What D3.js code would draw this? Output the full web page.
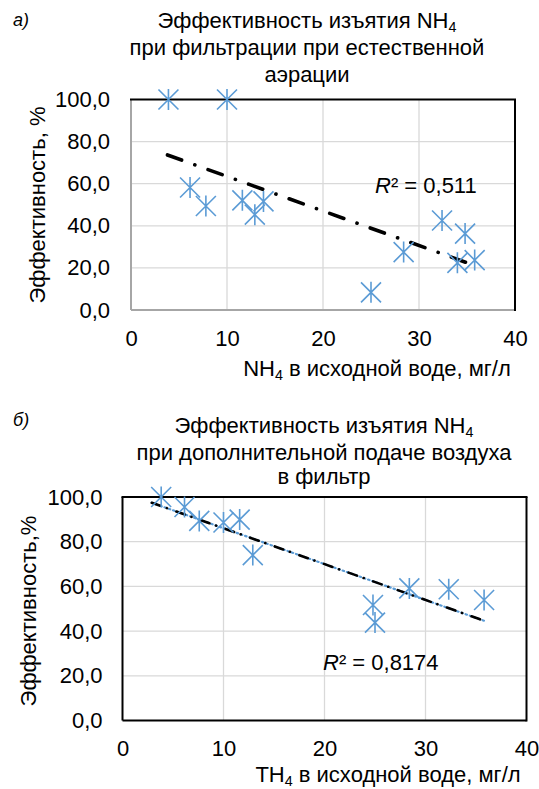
<!DOCTYPE html>
<html><head><meta charset="utf-8">
<script src="https://cdn.jsdelivr.net/npm/d3@7"></script>
<style>
html,body{margin:0;padding:0;background:#fff;}
svg{display:block;font-family:"Liberation Sans",Arial,sans-serif;}
</style></head>
<body>
<svg id="c" width="539" height="789"></svg>
<script>
// ---- data ----
const xTicks = [0, 10, 20, 30, 40];
const yTicks = [0, 20, 40, 60, 80, 100];
const yTickLabels = ["0,0", "20,0", "40,0", "60,0", "80,0", "100,0"];

const aX = [3.9, 10.0, 6.15, 7.8, 11.6, 12.9, 13.8, 25.0, 28.4, 32.4, 34.8, 34.0, 35.8];
const aY = [100, 100, 58.2, 49.4, 52.1, 45.3, 51.6, 8.4, 27.5, 42.5, 36.3, 22.4, 23.7];
const aTitle = ["Эффективность изъятия NH|4", "при фильтрации при естественной", "аэрации"];
const aXLabel = "NH|4| в исходной воде, мг/л";
const aYLabel = "Эффективность, %";
const aR2 = "0,511";
const aTag = "а)";

const bX = [3.83, 6.14, 7.6, 10.0, 11.6, 12.9, 24.8, 25.0, 28.4, 32.3, 35.8];
const bY = [100, 95.5, 89.3, 88.6, 89.9, 74.0, 51.7, 43.8, 59.1, 58.7, 53.9];
const bTitle = ["Эффективность изъятия NH|4", "при дополнительной подаче воздуха", "в фильтр"];
const bXLabel = "ТН|4| в исходной воде, мг/л";
const bYLabel = "Эффективность,%";
const bR2 = "0,8174";
const bTag = "б)";

const svg = d3.select("#c");
const FONT = 22;
const BLUE = "#5B9BD5";

function richText(g, str, x, y, anchor, size) {
  const parts = str.split("|");
  const t = g.append("text").attr("x", x).attr("y", y).attr("text-anchor", anchor)
    .attr("font-size", size).attr("fill", "#000");
  parts.forEach((p, i) => {
    if (p === "") return;
    if (i % 2 === 1) {
      t.append("tspan").attr("font-size", size * 0.65).attr("dy", size * 0.2).text(p);
    } else {
      const s = t.append("tspan").text(p);
      if (i > 0) s.attr("dy", -size * 0.2);
    }
  });
  return t;
}

function regression(xs, ys) {
  const n = xs.length;
  const mx = d3.mean(xs), my = d3.mean(ys);
  let sxy = 0, sxx = 0;
  for (let i = 0; i < n; i++) { sxy += (xs[i] - mx) * (ys[i] - my); sxx += (xs[i] - mx) ** 2; }
  const b = sxy / sxx;
  return { b, a: my - b * mx };
}

function drawChart(cfg) {
  const g = svg.append("g");
  const x = d3.scaleLinear().domain([0, 40]).range([cfg.left, cfg.right]);
  const y = d3.scaleLinear().domain([0, 100]).range([cfg.bottom, cfg.top]);

  // gridlines
  g.append("g").selectAll("line.v").data(xTicks.slice(1, -1)).join("line")
    .attr("x1", d => x(d)).attr("x2", d => x(d)).attr("y1", cfg.top).attr("y2", cfg.bottom)
    .attr("stroke", "#d9d9d9").attr("stroke-width", 1.3);
  g.append("g").selectAll("line.h").data(yTicks.slice(1, -1)).join("line")
    .attr("x1", cfg.left).attr("x2", cfg.right).attr("y1", d => y(d)).attr("y2", d => y(d))
    .attr("stroke", "#d9d9d9").attr("stroke-width", 1.3);

  // frame
  const fr = g.append("g");
  fr.append("line").attr("x1", cfg.left).attr("x2", cfg.right).attr("y1", cfg.bottom).attr("y2", cfg.bottom)
    .attr("stroke", cfg.axisColor).attr("stroke-width", 2);
  fr.append("line").attr("x1", cfg.left).attr("x2", cfg.left).attr("y1", cfg.top).attr("y2", cfg.bottom)
    .attr("stroke", cfg.axisColor).attr("stroke-width", 2);
  fr.append("line").attr("x1", cfg.left - 1).attr("x2", cfg.right + 1).attr("y1", cfg.top).attr("y2", cfg.top)
    .attr("stroke", "#000").attr("stroke-width", 2);
  fr.append("line").attr("x1", cfg.right).attr("x2", cfg.right).attr("y1", cfg.top).attr("y2", cfg.bottom + 1)
    .attr("stroke", "#000").attr("stroke-width", 2);

  // axes (labels only)
  const xa = g.append("g").attr("transform", `translate(0,${cfg.bottom})`)
    .call(d3.axisBottom(x).tickValues(xTicks).tickSize(0).tickPadding(cfg.xPad).tickFormat(d3.format("d")));
  xa.select(".domain").remove();
  xa.selectAll("text").attr("font-size", FONT).attr("font-family", null).attr("fill", "#000");
  const ya = g.append("g").attr("transform", `translate(${cfg.left},0)`)
    .call(d3.axisLeft(y).tickValues(yTicks).tickSize(0).tickPadding(cfg.yPad).tickFormat((d, i) => yTickLabels[i]));
  ya.select(".domain").remove();
  ya.selectAll("text").attr("font-size", FONT).attr("font-family", null).attr("fill", "#000");

  // trendline
  const r = regression(cfg.xs, cfg.ys);
  const tx = [cfg.trendFrom, d3.max(cfg.xs)];
  const line = d3.line().x(d => x(d)).y(d => y(r.a + r.b * d));
  if (cfg.style === "a") {
    g.append("path").attr("d", line(tx)).attr("fill", "none").attr("stroke", "#000")
      .attr("stroke-width", 3.6).attr("stroke-dasharray", "15 14 0.1 14").attr("stroke-linecap", "round");
  } else {
    g.append("path").attr("d", line(tx)).attr("fill", "none").attr("stroke", BLUE)
      .attr("stroke-width", 2.2).attr("stroke-dasharray", "1.5 3").attr("stroke-linecap", "round");
    g.append("path").attr("d", line(tx)).attr("fill", "none").attr("stroke", "#000")
      .attr("stroke-width", 2.6).attr("stroke-dasharray", "9 7 0.1 10").attr("stroke-linecap", "round");
  }

  // markers: asterisk (X + vertical)
  const m = 10;
  const mk = g.append("g").selectAll("g").data(cfg.xs.map((d, i) => [d, cfg.ys[i]])).join("g")
    .attr("transform", d => `translate(${x(d[0])},${y(d[1])})`);
  mk.append("path").attr("d", `M${-m},${-m}L${m},${m}M${-m},${m}L${m},${-m}M0,${-m * 1.05}L0,${m * 1.05}`)
    .attr("stroke", BLUE).attr("stroke-width", 1.6).attr("fill", "none");

  // R² label
  const rt = g.append("text").attr("x", cfg.r2x).attr("y", cfg.r2y).attr("font-size", FONT).attr("fill", "#000");
  rt.append("tspan").attr("font-style", "italic").text("R");
  rt.append("tspan").text("² = " + cfg.r2);

  // titles
  cfg.title.forEach((t, i) => richText(g, t, cfg.titleX, cfg.titleY[i], "middle", FONT));
  richText(g, cfg.xLabel, cfg.xLabelX, cfg.xLabelY, "middle", FONT);
  g.append("text").attr("transform", `translate(${cfg.yLabelX},${cfg.yLabelY}) rotate(-90)`)
    .attr("text-anchor", "middle").attr("font-size", FONT).attr("fill", "#000").text(cfg.yLabel);
  g.append("text").attr("x", 13).attr("y", cfg.tagY).attr("font-size", 18).attr("font-style", "italic")
    .attr("fill", "#000").text(cfg.tag);
}

drawChart({
  left: 131, right: 515, top: 99.5, bottom: 310, axisColor: "#a6a6a6",
  xs: aX, ys: aY, trendFrom: 3.8, style: "a", r2: aR2, r2x: 375, r2y: 193,
  title: aTitle, titleX: 307, titleY: [28, 55, 82],
  xLabel: aXLabel, xLabelX: 377, xLabelY: 376,
  yLabel: aYLabel, yLabelX: 45, yLabelY: 205,
  xPad: 20, yPad: 21, tag: aTag, tagY: 26
});

drawChart({
  left: 122.5, right: 526.5, top: 497, bottom: 720.5, axisColor: "#000",
  xs: bX, ys: bY, trendFrom: 2.9, style: "b", r2: bR2, r2x: 323, r2y: 670,
  title: bTitle, titleX: 324, titleY: [433, 460, 484],
  xLabel: bXLabel, xLabelX: 388, xLabelY: 782,
  yLabel: bYLabel, yLabelX: 36, yLabelY: 611,
  xPad: 20, yPad: 20, tag: bTag, tagY: 426
});
</script>
</body></html>
